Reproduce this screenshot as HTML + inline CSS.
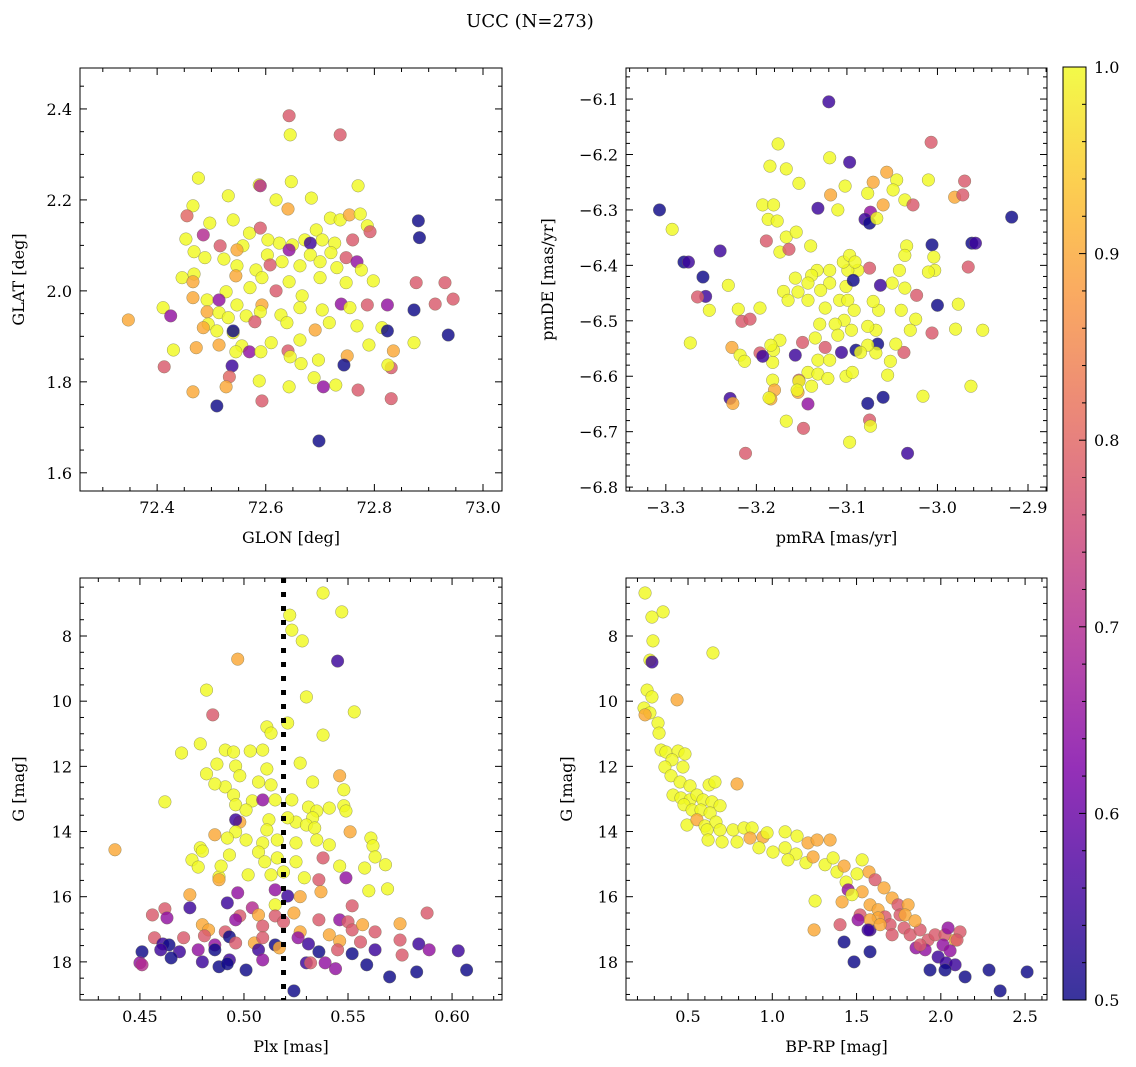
<!DOCTYPE html>
<html><head><meta charset="utf-8"><style>
body{margin:0;background:#fff}
svg{display:block;font-family:"DejaVu Serif","Liberation Serif",serif}
</style></head><body>
<svg id="fig" width="1136" height="1067" viewBox="0 0 1136 1067">
<text x="530" y="27" text-anchor="middle" font-size="18">UCC (N=273)</text>
</svg>
<script>
// ---------- data: [x, y, membership probability] ----------
const glonGlat = [[72.643,2.385,0.78],[72.645,2.343,1],[72.737,2.343,0.78],[72.476,2.248,1],[72.466,2.187,1],[72.588,2.233,1],[72.647,2.240,1],[72.590,2.231,0.7],[72.770,2.231,1],[72.684,2.204,1],[72.619,2.200,1],[72.531,2.209,1],[72.455,2.165,0.8],[72.453,2.114,1],[72.485,2.123,0.7],[72.497,2.149,1],[72.540,2.156,1],[72.570,2.127,1],[72.590,2.138,0.78],[72.641,2.180,0.9],[72.719,2.160,1],[72.737,2.156,1],[72.754,2.167,0.9],[72.774,2.169,1],[72.881,2.154,0.5],[72.883,2.117,0.5],[72.787,2.143,1],[72.792,2.130,0.78],[72.693,2.134,1],[72.672,2.112,1],[72.704,2.112,1],[72.727,2.105,1],[72.760,2.112,0.78],[72.682,2.105,0.55],[72.649,2.101,1],[72.625,2.105,1],[72.604,2.112,1],[72.558,2.099,1],[72.516,2.099,0.78],[72.468,2.086,1],[72.547,2.090,0.9],[72.603,2.079,1],[72.643,2.090,0.65],[72.682,2.079,1],[72.720,2.084,1],[72.748,2.073,0.78],[72.768,2.064,0.65],[72.731,2.051,1],[72.776,2.046,1],[72.700,2.064,1],[72.663,2.055,1],[72.630,2.064,1],[72.608,2.057,0.78],[72.582,2.046,1],[72.547,2.055,1],[72.523,2.070,1],[72.488,2.073,1],[72.446,2.029,1],[72.468,2.037,1],[72.466,2.020,0.9],[72.877,2.018,0.78],[72.930,2.018,0.78],[72.545,2.033,0.9],[72.593,2.029,1],[72.643,2.020,1],[72.700,2.029,1],[72.748,2.018,1],[72.798,2.022,1],[72.527,1.998,1],[72.571,2.007,1],[72.619,2.000,0.78],[72.667,1.989,1],[72.466,1.985,0.9],[72.492,1.980,1],[72.514,1.980,0.65],[72.593,1.969,0.9],[72.547,1.969,1],[72.739,1.971,0.65],[72.787,1.969,0.78],[72.912,1.971,0.78],[72.945,1.982,0.78],[72.411,1.963,1],[72.425,1.945,0.65],[72.492,1.954,0.9],[72.514,1.952,1],[72.494,1.927,1],[72.531,1.941,1],[72.564,1.945,1],[72.590,1.954,1],[72.628,1.947,1],[72.663,1.963,1],[72.704,1.958,1],[72.755,1.963,1],[72.824,1.969,0.65],[72.873,1.958,0.5],[72.347,1.936,0.9],[72.485,1.919,0.9],[72.540,1.908,1],[72.580,1.932,0.78],[72.639,1.930,1],[72.691,1.914,0.9],[72.717,1.930,1],[72.768,1.923,1],[72.814,1.919,1],[72.824,1.912,0.5],[72.936,1.903,0.5],[72.540,1.912,0.5],[72.472,1.875,0.9],[72.514,1.881,0.9],[72.556,1.879,1],[72.610,1.886,1],[72.663,1.892,1],[72.790,1.881,1],[72.873,1.886,1],[72.430,1.870,1],[72.545,1.866,1],[72.570,1.866,0.65],[72.641,1.868,0.78],[72.591,1.866,1],[72.835,1.868,0.9],[72.645,1.855,1],[72.697,1.848,1],[72.750,1.857,0.9],[72.538,1.835,0.55],[72.413,1.833,0.78],[72.665,1.840,1],[72.744,1.837,0.5],[72.831,1.831,0.78],[72.825,1.837,1],[72.533,1.811,0.8],[72.588,1.802,1],[72.689,1.809,1],[72.643,1.789,1],[72.527,1.789,0.9],[72.466,1.778,0.9],[72.706,1.789,0.65],[72.729,1.793,1],[72.770,1.782,0.78],[72.831,1.763,0.78],[72.593,1.758,0.78],[72.510,1.747,0.5],[72.698,1.670,0.5],[72.510,1.912,1]];

const pmraPmde = [[-3.307,-6.300,0.5],[-3.293,-6.335,1],[-3.280,-6.394,0.5],[-3.275,-6.394,0.55],[-3.259,-6.421,0.5],[-3.256,-6.456,0.55],[-3.265,-6.457,0.78],[-3.252,-6.481,1],[-3.273,-6.540,1],[-3.240,-6.374,0.55],[-3.231,-6.436,1],[-3.220,-6.479,1],[-3.216,-6.501,0.78],[-3.207,-6.497,0.78],[-3.196,-6.477,1],[-3.227,-6.548,0.9],[-3.218,-6.562,1],[-3.213,-6.573,1],[-3.196,-6.558,0.78],[-3.229,-6.640,0.55],[-3.226,-6.649,0.9],[-3.212,-6.739,0.78],[-3.176,-6.181,1],[-3.185,-6.221,1],[-3.167,-6.226,1],[-3.153,-6.252,1],[-3.193,-6.291,1],[-3.181,-6.291,1],[-3.187,-6.317,1],[-3.177,-6.320,1],[-3.189,-6.356,0.78],[-3.167,-6.349,1],[-3.156,-6.340,1],[-3.174,-6.376,1],[-3.164,-6.371,0.78],[-3.140,-6.365,1],[-3.132,-6.297,0.55],[-3.120,-6.105,0.55],[-3.119,-6.206,1],[-3.097,-6.214,0.55],[-3.102,-6.257,1],[-3.118,-6.273,0.9],[-3.110,-6.300,1],[-3.077,-6.270,1],[-3.056,-6.232,0.9],[-3.045,-6.246,1],[-3.049,-6.264,1],[-3.071,-6.250,0.9],[-3.074,-6.304,0.65],[-3.080,-6.317,0.55],[-3.075,-6.324,0.5],[-3.067,-6.315,1],[-3.060,-6.291,0.9],[-3.036,-6.282,1],[-3.027,-6.291,0.78],[-3.007,-6.178,0.78],[-3.010,-6.246,1],[-2.981,-6.277,0.9],[-2.972,-6.273,0.78],[-2.970,-6.248,0.78],[-2.918,-6.313,0.5],[-2.962,-6.360,0.5],[-2.958,-6.360,0.55],[-2.966,-6.403,0.78],[-3.006,-6.363,0.5],[-3.004,-6.385,1],[-3.003,-6.409,1],[-3.034,-6.365,1],[-3.036,-6.382,1],[-3.042,-6.409,1],[-3.050,-6.432,1],[-3.036,-6.441,1],[-3.010,-6.412,1],[-3.023,-6.454,0.78],[-3.000,-6.472,0.5],[-2.977,-6.470,1],[-2.980,-6.515,1],[-2.950,-6.517,1],[-3.006,-6.522,0.78],[-3.040,-6.481,1],[-3.024,-6.497,1],[-3.030,-6.517,1],[-3.037,-6.557,0.78],[-3.046,-6.542,1],[-3.052,-6.573,1],[-3.055,-6.598,1],[-3.066,-6.542,0.5],[-3.068,-6.558,1],[-3.077,-6.544,1],[-3.068,-6.517,1],[-3.065,-6.481,1],[-3.071,-6.465,1],[-3.063,-6.436,0.55],[-3.075,-6.405,0.78],[-3.088,-6.409,1],[-3.099,-6.409,1],[-3.104,-6.394,1],[-3.097,-6.382,1],[-3.091,-6.394,1],[-3.119,-6.409,1],[-3.133,-6.409,1],[-3.139,-6.418,1],[-3.119,-6.432,1],[-3.129,-6.445,1],[-3.143,-6.432,1],[-3.157,-6.423,1],[-3.154,-6.448,1],[-3.170,-6.447,1],[-3.165,-6.463,1],[-3.143,-6.463,1],[-3.101,-6.438,1],[-3.093,-6.427,0.5],[-3.108,-6.463,1],[-3.124,-6.477,1],[-3.099,-6.463,1],[-3.092,-6.481,1],[-3.103,-6.499,1],[-3.095,-6.517,1],[-3.077,-6.510,1],[-3.130,-6.506,1],[-3.113,-6.506,1],[-3.110,-6.526,1],[-3.135,-6.531,1],[-3.149,-6.539,0.78],[-3.157,-6.562,0.55],[-3.124,-6.548,0.78],[-3.132,-6.571,1],[-3.119,-6.571,1],[-3.106,-6.557,0.55],[-3.090,-6.553,0.5],[-3.085,-6.557,1],[-3.143,-6.593,1],[-3.132,-6.596,1],[-3.121,-6.604,1],[-3.101,-6.600,1],[-3.094,-6.593,1],[-3.139,-6.618,1],[-3.153,-6.607,0.78],[-3.154,-6.629,0.9],[-3.153,-6.609,1],[-3.182,-6.575,1],[-3.182,-6.607,1],[-3.181,-6.553,1],[-3.180,-6.625,0.9],[-3.193,-6.564,0.55],[-3.174,-6.535,1],[-3.184,-6.544,1],[-3.155,-6.625,1],[-3.184,-6.641,0.9],[-3.143,-6.650,0.65],[-3.148,-6.694,0.78],[-3.167,-6.681,1],[-3.186,-6.639,1],[-3.097,-6.719,1],[-3.077,-6.649,0.5],[-3.075,-6.679,0.78],[-3.074,-6.690,1],[-3.060,-6.638,0.5],[-3.016,-6.636,1],[-2.963,-6.618,1],[-3.033,-6.739,0.55]];

const plxG = [[0.538,6.68,1],[0.523,7.82,1],[0.528,8.15,1],[0.547,7.26,1],[0.522,7.36,1],[0.545,8.77,0.55],[0.497,8.71,0.9],[0.482,9.66,1],[0.485,10.42,0.78],[0.530,9.87,1],[0.521,10.67,1],[0.511,10.79,1],[0.513,10.98,1],[0.538,11.04,1],[0.553,10.33,1],[0.470,11.59,1],[0.479,11.31,1],[0.491,11.50,1],[0.495,11.56,1],[0.503,11.53,1],[0.509,11.50,1],[0.487,11.93,1],[0.496,11.99,1],[0.511,12.08,1],[0.527,11.90,1],[0.482,12.23,1],[0.498,12.29,1],[0.491,12.63,1],[0.486,12.54,1],[0.507,12.48,1],[0.513,12.57,1],[0.533,12.48,1],[0.546,12.29,0.9],[0.548,12.72,1],[0.462,13.09,1],[0.495,12.88,1],[0.496,13.18,1],[0.504,13.06,1],[0.509,13.03,0.65],[0.515,13.03,1],[0.501,13.34,1],[0.523,13.03,1],[0.531,13.25,1],[0.535,13.37,1],[0.541,13.28,1],[0.548,13.21,1],[0.549,13.37,1],[0.498,13.71,0.9],[0.496,13.64,0.55],[0.512,13.64,1],[0.525,13.71,1],[0.533,13.58,1],[0.530,13.80,1],[0.521,13.58,1],[0.534,13.89,1],[0.511,13.95,1],[0.496,14.01,1],[0.486,14.10,0.9],[0.492,14.20,1],[0.501,14.26,1],[0.509,14.35,1],[0.516,14.26,1],[0.525,14.35,1],[0.535,14.26,1],[0.541,14.41,1],[0.551,14.01,0.9],[0.561,14.20,1],[0.562,14.44,1],[0.563,14.78,1],[0.479,14.50,1],[0.480,14.60,1],[0.493,14.72,1],[0.507,14.63,1],[0.516,14.81,1],[0.525,14.93,1],[0.538,14.81,0.78],[0.546,15.06,1],[0.558,15.12,1],[0.568,15.02,1],[0.438,14.56,0.9],[0.475,14.87,1],[0.478,15.09,1],[0.510,14.93,1],[0.513,15.33,1],[0.519,15.24,1],[0.488,15.39,1],[0.489,15.06,1],[0.529,15.42,1],[0.536,15.48,0.78],[0.549,15.42,0.65],[0.569,15.76,1],[0.502,15.33,1],[0.488,15.48,0.9],[0.560,15.82,1],[0.497,15.88,0.65],[0.474,15.94,0.9],[0.515,15.79,0.65],[0.527,16.00,0.9],[0.521,15.98,0.55],[0.537,15.85,0.9],[0.492,16.19,0.55],[0.524,16.50,0.9],[0.552,16.28,0.78],[0.515,16.25,1],[0.504,16.34,0.7],[0.474,16.34,0.55],[0.462,16.37,0.78],[0.456,16.56,0.78],[0.463,16.65,0.65],[0.507,16.56,0.9],[0.515,16.59,0.78],[0.498,16.59,0.78],[0.536,16.71,0.78],[0.546,16.71,0.65],[0.550,16.77,0.78],[0.575,16.83,0.9],[0.588,16.50,0.78],[0.480,16.86,0.9],[0.483,17.02,0.9],[0.491,17.08,0.78],[0.496,16.71,0.65],[0.509,16.90,0.78],[0.519,16.77,0.78],[0.527,17.08,0.9],[0.541,17.17,0.9],[0.552,17.02,0.78],[0.557,16.86,0.9],[0.563,17.08,0.78],[0.481,17.20,0.78],[0.493,17.23,0.5],[0.486,17.48,0.65],[0.496,17.42,0.78],[0.505,17.42,0.9],[0.509,17.26,0.78],[0.515,17.48,0.5],[0.526,17.26,0.65],[0.531,17.45,0.55],[0.546,17.36,0.9],[0.556,17.39,0.78],[0.575,17.33,0.78],[0.584,17.45,0.55],[0.457,17.26,0.78],[0.471,17.26,0.78],[0.461,17.45,0.55],[0.464,17.48,0.5],[0.460,17.63,0.55],[0.451,17.69,0.5],[0.469,17.69,0.55],[0.478,17.63,0.65],[0.486,17.63,0.5],[0.507,17.63,0.55],[0.517,17.57,0.9],[0.536,17.69,0.5],[0.545,17.63,0.78],[0.552,17.75,0.5],[0.563,17.63,0.55],[0.576,17.79,0.78],[0.589,17.63,0.65],[0.603,17.66,0.55],[0.450,18.03,0.65],[0.451,18.09,0.7],[0.465,17.88,0.5],[0.493,17.94,0.55],[0.480,18.00,0.55],[0.488,18.15,0.5],[0.492,18.06,0.5],[0.501,18.25,0.5],[0.509,17.94,0.65],[0.530,18.03,0.55],[0.539,18.03,0.65],[0.544,18.21,0.65],[0.559,18.09,0.5],[0.570,18.46,0.5],[0.583,18.31,0.5],[0.607,18.25,0.5],[0.524,18.89,0.5],[0.532,18.03,0.78]];

const bprpG = [[0.245,6.68,1],[0.286,7.42,1],[0.352,7.26,1],[0.292,8.15,1],[0.274,8.74,1],[0.286,8.80,0.55],[0.648,8.52,1],[0.257,9.66,1],[0.286,9.87,1],[0.239,10.21,1],[0.274,10.36,1],[0.245,10.42,0.9],[0.322,10.67,1],[0.435,9.96,0.9],[0.328,10.98,1],[0.340,11.50,1],[0.369,11.56,1],[0.441,11.53,1],[0.405,11.80,1],[0.482,11.62,1],[0.363,12.02,1],[0.399,12.29,1],[0.470,12.02,1],[0.453,12.48,1],[0.512,12.60,1],[0.625,12.57,1],[0.660,12.48,1],[0.791,12.54,0.9],[0.411,12.88,1],[0.458,12.97,1],[0.512,13.03,1],[0.553,12.88,1],[0.589,13.03,1],[0.642,13.09,1],[0.476,13.18,1],[0.524,13.34,1],[0.577,13.34,1],[0.631,13.43,1],[0.690,13.21,1],[0.494,13.80,1],[0.553,13.64,0.9],[0.601,13.83,1],[0.666,13.71,1],[0.613,13.95,1],[0.690,13.95,1],[0.767,13.95,1],[0.832,13.89,1],[0.880,13.89,1],[0.619,14.26,1],[0.702,14.32,1],[0.791,14.32,1],[0.868,14.20,0.9],[0.945,14.17,0.9],[0.969,14.04,1],[1.076,14.01,1],[1.147,14.14,1],[1.212,14.35,0.9],[1.266,14.26,0.9],[1.343,14.26,0.9],[0.921,14.50,1],[1.004,14.63,1],[1.076,14.50,1],[1.141,14.69,1],[1.093,14.87,1],[1.200,14.96,1],[1.242,14.78,0.9],[1.313,15.02,1],[1.361,14.81,1],[1.384,15.24,1],[1.426,15.06,0.9],[1.503,15.30,1],[1.533,14.87,1],[1.574,15.24,0.9],[1.438,15.55,1],[1.533,15.85,0.9],[1.610,15.48,0.78],[1.663,15.73,0.9],[1.450,15.79,0.65],[1.414,16.16,0.9],[1.254,16.13,1],[1.580,16.25,0.9],[1.628,16.40,0.9],[1.711,16.04,0.9],[1.746,16.25,0.78],[1.806,16.25,0.9],[1.669,16.62,0.78],[1.628,16.65,0.9],[1.699,16.86,0.78],[1.758,16.56,0.78],[1.580,17.02,0.55],[1.711,17.17,0.78],[1.782,16.96,0.78],[1.818,17.17,0.78],[1.877,17.02,0.78],[1.924,17.33,0.78],[1.966,17.17,0.78],[2.025,17.17,0.78],[2.085,17.33,0.9],[2.114,17.08,0.78],[2.096,17.33,0.78],[2.013,17.48,0.65],[1.907,17.63,0.65],[1.853,17.57,0.65],[2.055,17.66,0.65],[1.984,17.85,0.55],[2.031,18.03,0.55],[2.085,18.09,0.55],[2.025,18.25,0.5],[1.936,18.25,0.5],[2.144,18.46,0.5],[2.286,18.25,0.5],[2.512,18.31,0.5],[2.352,18.89,0.5],[1.426,17.39,0.5],[1.485,18.00,0.5],[1.580,17.69,0.5],[1.521,16.56,0.78],[1.402,16.86,0.78],[1.248,17.02,0.9],[1.580,16.71,0.9],[1.640,16.86,0.9],[1.788,16.56,0.9],[1.847,16.74,0.9],[1.877,17.48,0.78],[2.043,16.96,0.65],[1.568,17.02,0.55],[1.509,16.71,0.65],[1.473,15.94,1]];

const plxMedian = [0.519];
const cbarTicks = [0.5,0.6,0.7,0.8,0.9,1.0];

// ---------- rendering ----------
const NS = "http://www.w3.org/2000/svg";
const svg = document.getElementById('fig');
function mk(tag, attrs, parent){const e=document.createElementNS(NS,tag);for(const k in attrs)e.setAttribute(k,attrs[k]);(parent||svg).appendChild(e);return e;}
const stops=[[0,[13,8,135]],[0.125,[70,3,159]],[0.25,[126,3,168]],[0.375,[170,35,149]],[0.5,[204,71,120]],[0.625,[230,108,92]],[0.75,[248,149,64]],[0.875,[253,195,40]],[1,[240,249,33]]];
function plasma(t){t=Math.max(0,Math.min(1,t));for(let i=1;i<stops.length;i++){if(t<=stops[i][0]){const a=stops[i-1],b=stops[i],f=(t-a[0])/(b[0]-a[0]);const c=a[1].map((v,j)=>Math.round(v+(b[1][j]-v)*f));return `rgb(${c[0]},${c[1]},${c[2]})`;}}return 'rgb(240,249,33)';}
function cmap(v){return plasma((v-0.5)/0.5);}

function panel(o){
  const {name,x0,x1,y0,y1,xd,yd,inv,data,xt,yt,xm,ym,fmtx,fmty,xl,yl,ylx}=o;
  const g=mk('g',{},svg);
  
  
  const sx=v=>x0+(v-xd[0])/(xd[1]-xd[0])*(x1-x0);
  const sy=v=>inv? y0+(v-yd[0])/(yd[1]-yd[0])*(y1-y0) : y1-(v-yd[0])/(yd[1]-yd[0])*(y1-y0);
  const clip='c'+name;
  const cp=mk('clipPath',{id:clip},g);mk('rect',{x:x0,y:y0,width:x1-x0,height:y1-y0},cp);
  const pts=mk('g',{'clip-path':`url(#${clip})`},g);
  
  
  data.forEach(d=>{
    const c=mk('circle',{cx:sx(d[0]),cy:sy(d[1]),r:6.3,fill:cmap(d[2]),'fill-opacity':0.82,stroke:'#707050','stroke-width':0.5,'stroke-opacity':0.7},pts);
    
    
  });
  if(o.extra) o.extra(g,sx,sy,clip);
  const ax=mk('g',{stroke:'#000','stroke-width':1},g);
  
  
  const eps=1e-9;
  for(let v=Math.ceil(xd[0]/xm-eps)*xm;v<=xd[1]+eps;v+=xm){const X=sx(v);const maj=xt.some(t=>Math.abs(t-v)<xm/3);const L=maj?7:4;
    mk('line',{x1:X,x2:X,y1:y1,y2:y1-L},ax);mk('line',{x1:X,x2:X,y1:y0,y2:y0+L},ax);}
  for(let v=Math.ceil(yd[0]/ym-eps)*ym;v<=yd[1]+eps;v+=ym){const Y=sy(v);const maj=yt.some(t=>Math.abs(t-v)<ym/3);const L=maj?7:4;
    mk('line',{x1:x0,x2:x0+L,y1:Y,y2:Y},ax);mk('line',{x1:x1,x2:x1-L,y1:Y,y2:Y},ax);}
  mk('rect',{x:x0,y:y0,width:x1-x0,height:y1-y0,fill:'none'},ax);
  xt.forEach(v=>{const t=mk('text',{x:sx(v),y:y1+22,'text-anchor':'middle','font-size':16},g);t.textContent=fmtx(v);
    
    });
  yt.forEach(v=>{const t=mk('text',{x:x0-8,y:sy(v)+6,'text-anchor':'end','font-size':16},g);t.textContent=fmty(v);
    
    });
  const xlab=mk('text',{x:(x0+x1)/2,y:y1+52,'text-anchor':'middle','font-size':16},g);xlab.textContent=xl;
  
  
  const cy=(y0+y1)/2;
  const ylab=mk('text',{x:ylx,y:cy,'text-anchor':'middle','font-size':16,transform:`rotate(-90 ${ylx} ${cy})`},g);ylab.textContent=yl;
  
  
}
const f1=v=>v.toFixed(1), f2=v=>v.toFixed(2), f0=v=>v.toFixed(0);
panel({name:'glon-glat',x0:80,x1:502,y0:68,y1:491,xd:[72.258,73.035],yd:[1.56,2.49],data:glonGlat,
  xt:[72.4,72.6,72.8,73.0],yt:[1.6,1.8,2.0,2.2,2.4],xm:0.05,ym:0.05,fmtx:f1,fmty:f1,xl:'GLON [deg]',yl:'GLAT [deg]',ylx:24});
panel({name:'pm',x0:626,x1:1047,y0:68,y1:491,xd:[-3.344,-2.879],yd:[-6.807,-6.044],data:pmraPmde,
  xt:[-3.3,-3.2,-3.1,-3.0,-2.9],yt:[-6.8,-6.7,-6.6,-6.5,-6.4,-6.3,-6.2,-6.1],xm:0.02,ym:0.02,fmtx:v=>'\u2212'+Math.abs(v).toFixed(1),fmty:v=>'\u2212'+Math.abs(v).toFixed(1),xl:'pmRA [mas/yr]',yl:'pmDE [mas/yr]',ylx:553});
panel({name:'plx-g',x0:80,x1:502,y0:578,y1:1000,xd:[0.4212,0.624],yd:[6.22,19.17],inv:true,data:plxG,
  xt:[0.45,0.50,0.55,0.60],yt:[8,10,12,14,16,18],xm:0.01,ym:0.5,fmtx:f2,fmty:f0,xl:'Plx [mas]',yl:'G [mag]',ylx:24,
  extra:(g,sx,sy)=>{plxMedian.forEach(v=>{const l=mk('line',{x1:sx(v),x2:sx(v),y1:578,y2:1000,stroke:'#000','stroke-width':5,'stroke-dasharray':'5 9'},g);
    
    });}});
panel({name:'cmd',x0:626,x1:1047,y0:578,y1:1000,xd:[0.132,2.63],yd:[6.22,19.17],inv:true,data:bprpG,
  xt:[0.5,1.0,1.5,2.0,2.5],yt:[8,10,12,14,16,18],xm:0.1,ym:0.5,fmtx:f1,fmty:f0,xl:'BP-RP [mag]',yl:'G [mag]',ylx:572});

// colorbar
const cb=mk('g',{},svg);


const defs=mk('defs',{},cb);const lg=mk('linearGradient',{id:'cbg',x1:0,y1:1,x2:0,y2:0},defs);
for(let i=0;i<=20;i++){mk('stop',{offset:i/20,'stop-color':plasma(i/20),'stop-opacity':0.82},lg);}
const cx0=1063,cx1=1086,cy0=67,cy1=1000;
mk('rect',{x:cx0,y:cy0,width:cx1-cx0,height:cy1-cy0,fill:'url(#cbg)',stroke:'#000','stroke-width':1},cb);
const cby=v=>cy1-(v-0.5)/0.5*(cy1-cy0);
for(let i=0;i<=25;i++){const v=0.5+i*0.02;const Y=cby(v);const maj=i%5===0;mk('line',{x1:cx1,x2:cx1-(maj?7:4),y1:Y,y2:Y,stroke:'#000'},cb);}
cbarTicks.forEach(v=>{const t=mk('text',{x:cx1+8,y:cby(v)+6,'font-size':16},cb);t.textContent=v.toFixed(1);
  
  });
</script>
</body></html>
